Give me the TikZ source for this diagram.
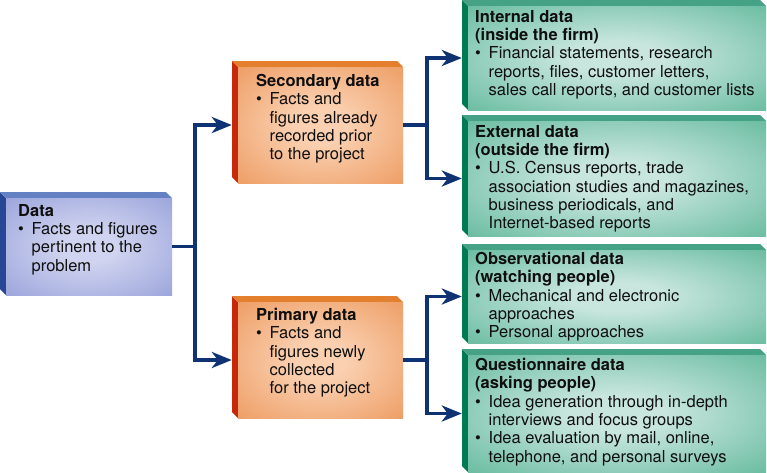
\documentclass[tikz,border=0pt]{standalone}
\usepackage{fontspec}
\setmainfont{TeX Gyre Heros}
\usetikzlibrary{arrows.meta,fit}
\definecolor{bluside}{RGB}{40,70,150}
\definecolor{blutop}{RGB}{100,130,195}
\definecolor{blufront}{RGB}{148,158,216}
\definecolor{blulight}{RGB}{208,212,240}
\definecolor{orgside}{RGB}{200,40,10}
\definecolor{orgtop}{RGB}{228,128,45}
\definecolor{orgfront}{RGB}{236,150,90}
\definecolor{orglight}{RGB}{250,208,176}
\definecolor{grnside}{RGB}{0,122,82}
\definecolor{grntop}{RGB}{70,162,132}
\definecolor{grnfront}{RGB}{92,182,152}
\definecolor{grnlight}{RGB}{200,230,222}
\definecolor{navy}{RGB}{15,50,115}
\definecolor{ink}{RGB}{15,15,15}
\pgfdeclareradialshading{blushade}{\pgfpoint{0bp}{0bp}}{color(0bp)=(blulight); color(8bp)=(blulight); color(40bp)=(blufront); color(50bp)=(blufront)}
\pgfdeclareradialshading{orgshade}{\pgfpoint{0bp}{0bp}}{color(0bp)=(orglight); color(8bp)=(orglight); color(40bp)=(orgfront); color(50bp)=(orgfront)}
\pgfdeclareradialshading{grnshade}{\pgfpoint{0bp}{0bp}}{color(0bp)=(grnlight); color(8bp)=(grnlight); color(40bp)=(grnfront); color(50bp)=(grnfront)}
\newcommand\bul{\makebox[13.5pt][l]{\textbullet}}
\newcommand\ind{\hspace*{13.5pt}}
% #1 name, #2 x1, #3 y1, #4 x2, #5 y2, #6 colour prefix
\newcommand\tdbox[6]{%
  \fill[#6side] (#2,#3) -- (#2-6,#3-6) -- (#2-6,#5-6) -- (#2,#5) -- cycle;
  \fill[#6top] (#2,#3) -- (#4,#3) -- (#4-6,#3-6) -- (#2-6,#3-6) -- cycle;
  \shade[shading=#6shade] (#2,#3) rectangle (#4,#5);
  \node[fit={(#2-6,#3) (#4,#5)}, inner sep=0pt] (#1) {};
}
\tikzset{
  txt/.style={anchor=north west, align=left, inner sep=0pt, text=ink,
    font=\fontsize{16.5}{18.3}\selectfont},
  conn/.style={draw=navy, line width=3.5pt, line join=miter},
  arr/.style={conn, -{Stealth[length=20pt, width=16pt, inset=6pt]}}
}
\begin{document}
\begin{tikzpicture}[x=1pt, y=-1pt]
\useasboundingbox (0,0) rectangle (767,472);
\fill[white] (0,0) rectangle (767,472);

\tdbox{data}{6}{198}{172}{295}{blu}
\tdbox{sec}{238}{67}{403}{183}{org}
\tdbox{pri}{238}{302}{403}{418}{org}
\tdbox{int}{468}{6}{766}{110}{grn}
\tdbox{ext}{468}{121}{766}{236}{grn}
\tdbox{obs}{468}{250}{766}{343}{grn}
\tdbox{que}{468}{355}{766}{472}{grn}

\node[txt] (tdata) at (18,204) {\textbf{Data}\\\bul Facts and figures\\\ind pertinent to the\\\ind problem};
\node[txt] (tsec) at (256,74) {\textbf{Secondary data}\\\bul Facts and\\\ind figures already\\\ind recorded prior\\\ind to the project};
\node[txt] (tpri) at (256,308) {\textbf{Primary data}\\\bul Facts and\\\ind figures newly\\\ind collected\\\ind for the project};
\node[txt] (tint) at (475,10) {\textbf{Internal data}\\\textbf{(inside the firm)}\\\bul Financial statements, research\\\ind reports, files, customer letters,\\\ind sales call reports, and customer lists};
\node[txt] (text) at (475,125) {\textbf{External data}\\\textbf{(outside the firm)}\\\bul U.S. Census reports, trade\\\ind association studies and magazines,\\\ind business periodicals, and\\\ind Internet-based reports};
\node[txt] (tobs) at (475,252) {\textbf{Observational data}\\\textbf{(watching people)}\\\bul Mechanical and electronic\\\ind approaches\\\bul Personal approaches};
\node[txt] (tque) at (475,358) {\textbf{Questionnaire data}\\\textbf{(asking people)}\\\bul Idea generation through in-depth\\\ind interviews and focus groups\\\bul Idea evaluation by mail, online,\\\ind telephone, and personal surveys};

\draw[conn] (data.east) -- ++(23,0) coordinate (j1);
\draw[arr] (j1) |- (sec.west);
\draw[arr] (j1) |- (pri.west);
\draw[conn] (sec.east) -- ++(24,0) coordinate (j2);
\draw[arr] (j2) |- (int.west);
\draw[arr] (j2) |- (ext.west);
\draw[conn] (pri.east) -- ++(24,0) coordinate (j3);
\draw[arr] (j3) |- (obs.west);
\draw[arr] (j3) |- (que.west);
\end{tikzpicture}
\end{document}
